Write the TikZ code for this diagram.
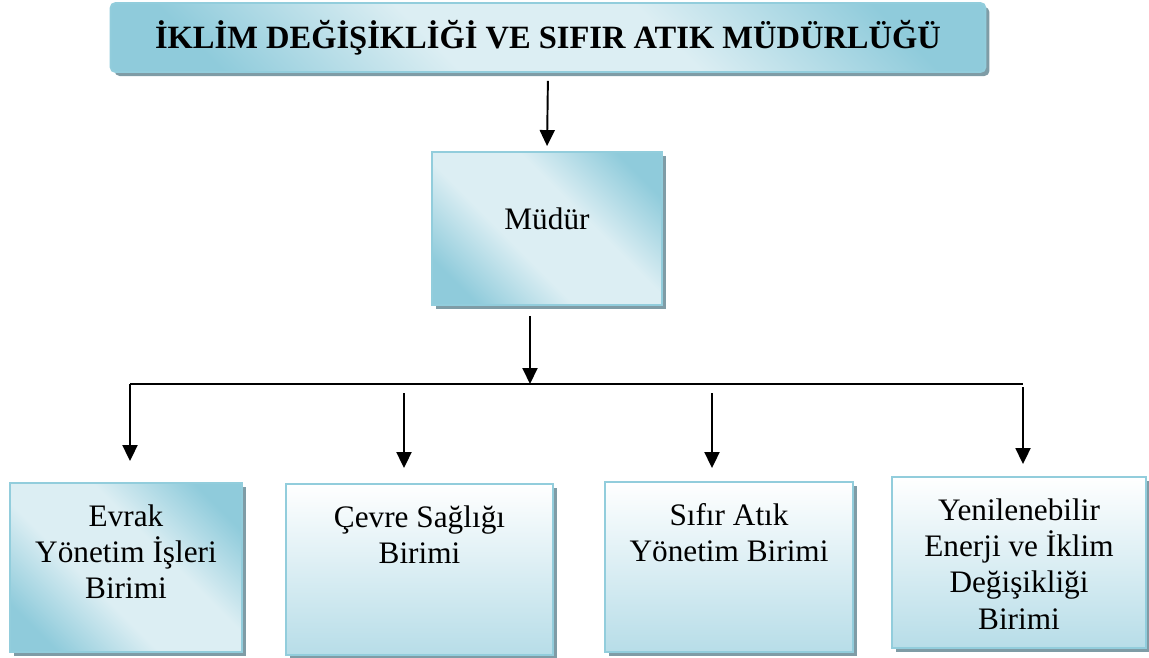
\documentclass[tikz,border=0pt]{standalone}
\usepackage{fontspec}
\setmainfont{Liberation Serif}
\usepackage{tikz}
\usetikzlibrary{arrows.meta,shadows,positioning}

\definecolor{kenar}{HTML}{92CDDC}
\definecolor{koyu}{HTML}{8FCBDB}
\definecolor{acik}{HTML}{DCEEF3}
\definecolor{alt}{HTML}{B7DDE8}
\definecolor{golge}{HTML}{7F9CA6}

\pgfdeclareverticalshading{kosegen}{100bp}{color(0bp)=(koyu); color(23bp)=(koyu);
  color(41bp)=(acik); color(59bp)=(acik); color(77bp)=(koyu); color(100bp)=(koyu)}

\tikzset{
  kutu/.style={draw=kenar, line width=1.1pt, inner sep=0pt,
    drop shadow={shadow xshift=0.08cm, shadow yshift=-0.08cm, fill=golge, opacity=1}},
  capraz/.style={kutu, shade, shading=kosegen, shading angle=-45},
  dikey/.style={kutu, top color=white, bottom color=alt},
  yazi/.style={align=center, inner sep=0pt, font=\fontsize{17.8}{20.7}\selectfont},
  ok/.style={line width=1.1pt, -{Triangle[length=0.32cm,width=0.3cm]}}
}

\begin{document}
\begin{tikzpicture}[x=0.02cm,y=-0.02cm]
  \useasboundingbox (0,0) rectangle (1149,657);
  \node[capraz, rounded corners=0.1cm, minimum width=17.5cm, minimum height=1.38cm,
    font=\bfseries\fontsize{18.5}{22}\selectfont] (mudurluk) at (548,37.5)
    {İKLİM DEĞİŞİKLİĞİ VE SIFIR ATIK MÜDÜRLÜĞÜ};
  \node[capraz, minimum width=4.6cm, minimum height=3.06cm] (mudur) at (547,228.5) {};
  \node[yazi] (mudurad) at ([yshift=0.2cm]mudur.center) {Müdür};
  % alt birimler
  \node[capraz, minimum width=4.64cm, minimum height=3.38cm] (evrak) at (126,567.5) {};
  \node[dikey, minimum width=5.34cm, minimum height=3.42cm] (cevre) at (419.5,569.5) {};
  \node[dikey, minimum width=4.96cm, minimum height=3.4cm] (sifir) at (729,567) {};
  \node[dikey, minimum width=5.08cm, minimum height=3.42cm] (enerji) at (1019,562.5) {};
  \node[yazi, anchor=north] (evrakyazi) at ([yshift=-0.44cm]evrak.north) {Evrak\\Yönetim İşleri\\Birimi};
  \node[yazi, anchor=north] (cevreyazi) at ([yshift=-0.44cm]cevre.north) {Çevre Sağlığı\\Birimi};
  \node[yazi, anchor=north] (sifiryazi) at ([yshift=-0.44cm]sifir.north) {Sıfır Atık\\Yönetim Birimi};
  \node[yazi, anchor=north] (enerjiyazi) at ([yshift=-0.44cm]enerji.north) {Yenilenebilir\\Enerji ve İklim\\Değişikliği\\Birimi};
  % baglantilar
  \coordinate (kol) at (530,384);
  \coordinate (sol) at (130,384);
  \coordinate (sag) at (1023,384);
  \coordinate (ikinci) at (404,393);
  \coordinate (ucuncu) at (712,393);
  \draw[ok, shorten <=0.16cm, shorten >=0.1cm] (mudurluk.south) -- (mudur.north);
  \draw[ok, shorten <=0.2cm] (kol |- mudur.south) -- (kol);
  \draw[line width=0.8pt] (sol) -- (sag);
  \draw[ok, shorten >=0.42cm] (sol) -- (sol |- evrak.north);
  \draw[ok, shorten >=0.3cm] (ikinci) -- (ikinci |- cevre.north);
  \draw[ok, shorten >=0.26cm] (ucuncu) -- (ucuncu |- sifir.north);
  \draw[ok, shorten <=0.06cm, shorten >=0.24cm] (sag) -- (sag |- enerji.north);
\end{tikzpicture}
\end{document}
